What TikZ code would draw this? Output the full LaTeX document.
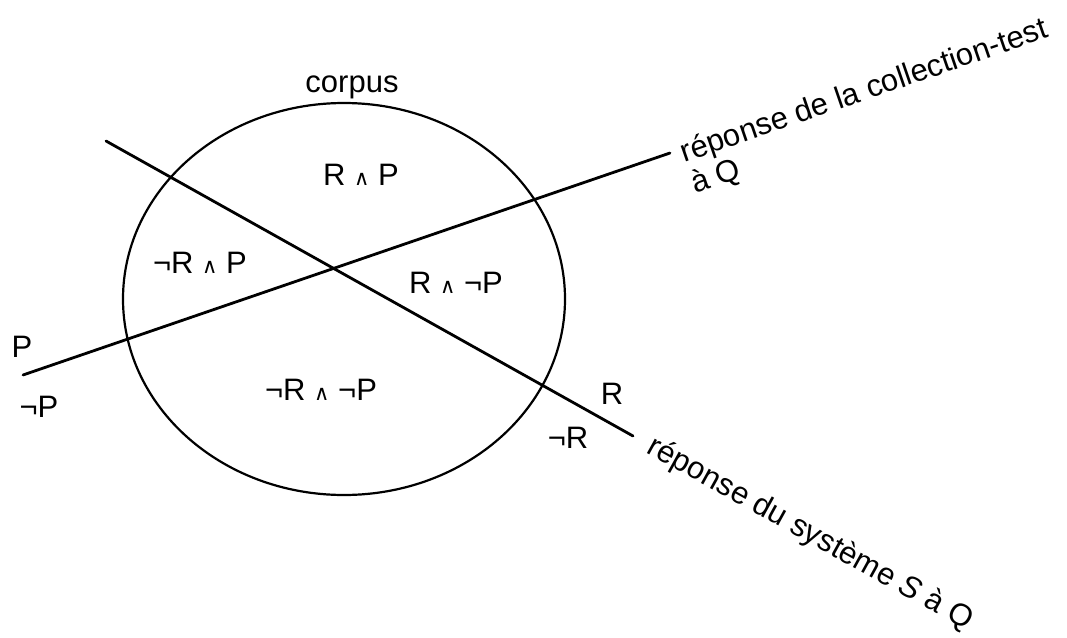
\documentclass[tikz,border=0pt]{standalone}
\usepackage{fontspec}
\setmainfont{Liberation Sans}
\newfontfamily\symfont{DejaVu Sans}
\newcommand{\wedgesym}{{\symfont\fontsize{21}{21}\selectfont ∧}}
\begin{document}
\begin{tikzpicture}[
                x=1pt, y=1pt,
                every node/.style={
                    inner sep=0pt,
                    font=\fontsize{31}{33}\selectfont
                },
                region/.style={
                    anchor=base
                },
                caption/.style={
                    anchor=base west,
                    align=left
                },
                cut/.style={
                    line width=2.8pt,
                    line cap=round
                }
            ]
                \useasboundingbox (0,0) rectangle (1067,-637);

                % the corpus
                \draw[line width=2.2pt] (344,-299) ellipse [x radius=221, y radius=196];
                \node[region] (corpus) at (352,-92) {corpus};

                % the two answers
                \coordinate (pstart) at (23,-375);
                \coordinate (pend)   at (670,-153);
                \coordinate (rstart) at (106,-141);
                \coordinate (rend)   at (633,-436);
                \draw[cut] (pstart) -- (pend);
                \draw[cut] (rstart) -- (rend);

                \node[region] (rp)   at (361,-185) {R \wedgesym{} P};
                \node[region] (nrp)  at (200,-273) {¬R \wedgesym{} P};
                \node[region] (rnp)  at (456,-293) {R \wedgesym{} ¬P};
                \node[region] (nrnp) at (321,-400) {¬R \wedgesym{} ¬P};

                \node[region] (p)  at (22,-357)  {P};
                \node[region] (np) at (39,-417)  {¬P};
                \node[region] (r)  at (612,-404) {R};
                \node[region] (nr) at (568,-448) {¬R};

                % base west of a two-line node sits on its last line
                \node[caption, rotate=19] (collection) at (695,-194)
                    {réponse de la collection-test\\à Q};
                \node[caption, rotate=-29] (systeme) at (645,-452)
                    {réponse du système \textit{S} à Q};
\end{tikzpicture}
\end{document}
